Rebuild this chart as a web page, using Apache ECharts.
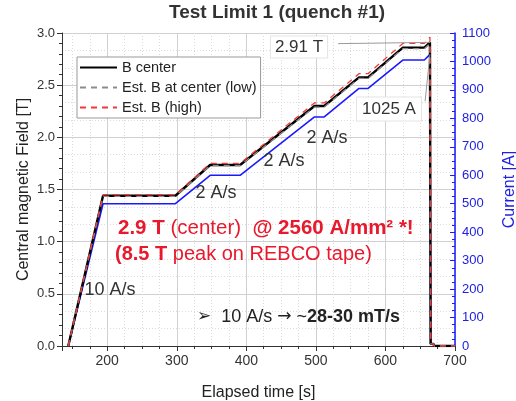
<!DOCTYPE html>
<html><head><meta charset="utf-8">
<script src="https://cdn.jsdelivr.net/npm/echarts@6/dist/echarts.min.js"></script>
<style>html,body{margin:0;padding:0;background:#fff}#c{width:516px;height:401px}</style>
</head><body><div id="c"></div>
<script>
// ---- data ----
const time      = [144, 194, 298, 348, 391, 498, 512, 562, 575, 625, 656, 664, 665, 666, 669, 670, 700];
const current   = [0, 500, 500, 600, 600, 805, 805, 905, 905, 1005, 1005, 1025, 8, 8, 8, 0, 0];
const bCenter   = [0, 1.44, 1.44, 1.735, 1.735, 2.30, 2.30, 2.575, 2.575, 2.86, 2.86, 2.91, 0.02, 0.02, 0.02, 0, 0];
const estLow    = [0, 1.435, 1.435, 1.73, 1.73, 2.29, 2.29, 2.565, 2.565, 2.85, 2.85, 2.90, 0.02, 0.02, 0.02, 0, 0];
const estHigh   = [0, 1.45, 1.45, 1.75, 1.75, 2.33, 2.33, 2.61, 2.61, 2.90, 2.90, 2.96, 0.02, 0.02, 0.02, 0, 0];
const seriesNames = ['B center', 'Est. B at center (low)', 'Est. B (high)'];
const peakIndex = 11;
const labelB = '2.91 T';
const labelI = '1025 A';

const F = '"Liberation Sans", Arial, sans-serif';
const pair = ys => time.map((t, i) => [t, ys[i]]);
const chart = echarts.init(document.getElementById('c'));
const txt = (x, y, text, o) => Object.assign({
  type: 'text', x: x, y: y, z: 100,
  style: Object.assign({text: text, fill: '#333', fontSize: 18, fontFamily: F, align: 'left', verticalAlign: 'middle'}, o || {})
});
chart.setOption({
  animation: false,
  textStyle: {fontFamily: F},
  grid: {left: 62, right: 61, top: 33, bottom: 55, containLabel: false, outerBoundsMode: 'none'},
  legend: {
    data: seriesNames, orient: 'vertical', left: 77, top: 57,
    itemWidth: 37, itemHeight: 14, itemGap: 5, padding: [3, 4, 3, 2],
    backgroundColor: '#fff', borderColor: '#999', borderWidth: 1, borderRadius: 0,
    itemStyle: {opacity: 0},
    textStyle: {fontSize: 14.5, color: '#222', fontFamily: F}
  },
  xAxis: [{
    type: 'value', min: 135, max: 700, splitNumber: 5,
    name: 'Elapsed time [s]', nameLocation: 'middle', nameGap: 39,
    nameTextStyle: {fontSize: 16, color: '#222'},
    axisLine: {lineStyle: {color: '#333'}},
    axisTick: {length: 5, lineStyle: {color: '#333'}},
    minorTick: {show: true, splitNumber: 4, length: 3, lineStyle: {color: '#333'}},
    axisLabel: {fontSize: 14, color: '#333', showMinLabel: false, margin: 8},
    splitLine: {show: true, lineStyle: {color: '#d0d0d0', width: 1}},
    minorSplitLine: {show: true, lineStyle: {color: '#dcdcdc', type: [1, 2]}}
  }, {
    type: 'value', min: 135, max: 700, splitNumber: 5, position: 'top',
    axisLine: {show: true, lineStyle: {color: '#333'}},
    axisTick: {show: true, inside: true, length: 5, lineStyle: {color: '#333'}},
    minorTick: {show: true, splitNumber: 4, length: 3, lineStyle: {color: '#333'}},
    axisLabel: {show: false}, splitLine: {show: false}
  }],
  yAxis: [{
    type: 'value', min: 0, max: 3, interval: 0.5, position: 'left',
    name: 'Central magnetic Field [T]', nameLocation: 'middle', nameGap: 30, nameRotate: 90,
    nameMoveOverlap: false,
    nameTextStyle: {fontSize: 16, color: '#222'},
    axisLine: {show: true, lineStyle: {color: '#333'}},
    axisTick: {show: true, length: 5, lineStyle: {color: '#333'}},
    minorTick: {show: true, splitNumber: 5, length: 3, lineStyle: {color: '#333'}},
    axisLabel: {fontSize: 13, color: '#333', formatter: v => v.toFixed(1), margin: 7},
    splitLine: {show: true, lineStyle: {color: '#d0d0d0'}}
  }, {
    type: 'value', min: 0, max: 1100, interval: 100, position: 'right',
    name: 'Current [A]', nameLocation: 'middle', nameGap: 41, nameRotate: 90,
    nameTextStyle: {fontSize: 16, color: '#2020e0'},
    axisLine: {show: true, lineStyle: {color: '#1a1aff', width: 1.5}},
    axisTick: {show: true, inside: true, length: 5, lineStyle: {color: '#1a1aff'}},
    minorTick: {show: true, splitNumber: 4, length: 3, lineStyle: {color: '#1a1aff'}},
    axisLabel: {fontSize: 13, color: '#2020e0', margin: 7, formatter: v => String(v)},
    splitLine: {show: false}
  }, {
    type: 'value', min: 0, max: 3, interval: 0.5, position: 'left',
    axisLine: {show: false}, axisTick: {show: false}, axisLabel: {show: false},
    splitLine: {show: false},
    minorTick: {show: false, splitNumber: 3},
    minorSplitLine: {show: true, lineStyle: {color: '#dcdcdc', type: [1, 2]}}
  }],
  series: [{
    name: seriesNames[0], type: 'line', data: pair(bCenter), symbol: 'none', z: 3,
    lineStyle: {color: '#000', width: 2.4}, itemStyle: {color: '#000'},
    markLine: {
      silent: true, symbol: 'none', animation: false,
      lineStyle: {color: '#999', width: 1, type: 'solid'}, label: {show: false},
      data: [[{coord: [532, 2.898]}, {coord: [time[peakIndex], bCenter[peakIndex]]}]]
    }
  }, {
    name: seriesNames[1], type: 'line', data: pair(estLow), symbol: 'none', z: 4,
    lineStyle: {color: '#8c8c8c', width: 1.3, type: [6, 5]}, itemStyle: {color: '#8c8c8c'}
  }, {
    name: seriesNames[2], type: 'line', data: pair(estHigh), symbol: 'none', z: 4,
    lineStyle: {color: '#f03838', width: 1.3, type: [6, 5]}, itemStyle: {color: '#f03838'}
  }, {
    name: 'Current', type: 'line', yAxisIndex: 1, data: pair(current), symbol: 'none', z: 2,
    lineStyle: {color: '#1a1aff', width: 1.6}, itemStyle: {color: '#1a1aff'},
    markLine: {
      silent: true, symbol: 'none', animation: false,
      lineStyle: {color: '#999', width: 1, type: 'solid'}, label: {show: false},
      data: [[{coord: [657, 860]}, {coord: [time[peakIndex], current[peakIndex]]}]]
    }
  }],
  graphic: [
    txt(277, 13, 'Test Limit 1 (quench #1)', {align: 'center', fontSize: 19, fontWeight: 'bold', fill: '#333'}),
    txt(299, 47, labelB, {align: 'center', fontSize: 17, backgroundColor: '#fff', borderColor: '#e4e4e4', borderWidth: 1, padding: [2, 4]}),
    txt(389, 109, labelI, {align: 'center', fontSize: 17, backgroundColor: '#fff', borderColor: '#e4e4e4', borderWidth: 1, padding: [3, 5]}),
    txt(110, 290, '10 A/s', {align: 'center'}),
    txt(216, 193, '2 A/s', {align: 'center'}),
    txt(284, 161, '2 A/s', {align: 'center'}),
    txt(327, 138, '2 A/s', {align: 'center'}),
    txt(118, 228, '{b|2.9 T} (center)  {b|@ 2560 A/mm² *!}', {fill: '#e8192c', fontSize: 20.5,
      rich: {b: {fontWeight: 'bold', fontSize: 20.5, fill: '#e8192c', fontFamily: F}}}),
    txt(115, 254, '{b|(8.5 T} peak on REBCO tape)', {fill: '#e8192c', fontSize: 20,
      rich: {b: {fontWeight: 'bold', fontSize: 20, fill: '#e8192c', fontFamily: F}}}),
    txt(197, 317, '{a|➢}  10 A/s {a|→} ~{b|28-30 mT/s}', {fill: '#222', fontSize: 18,
      rich: {b: {fontWeight: 'bold', fontSize: 18, fill: '#222', fontFamily: F},
             a: {fontSize: 17, fill: '#222', fontFamily: '"DejaVu Sans", sans-serif'}}})
  ]
});
</script></body></html>
